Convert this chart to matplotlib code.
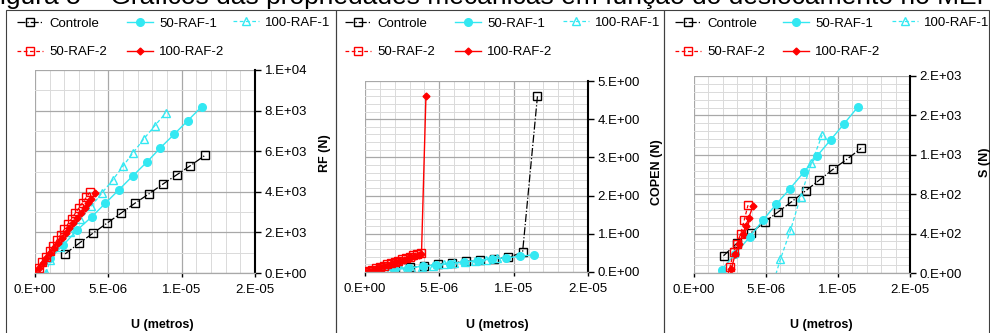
import matplotlib
matplotlib.use('Agg')
import matplotlib.pyplot as plt
from matplotlib.lines import Line2D
from matplotlib.patches import Rectangle
from matplotlib.ticker import MultipleLocator

plt.rcParams['font.family'] = ['Liberation Sans', 'DejaVu Sans']

# ---------------- data (U in micrometres -> scaled to metres) ----------------
series_names = ['Controle', '50-RAF-1', '100-RAF-1', '50-RAF-2', '100-RAF-2']

u_controle = [2.05, 3.00, 3.95, 4.90, 5.85, 6.80, 7.75, 8.70, 9.65, 10.60, 11.60]
rf_controle = [0.94, 1.46, 1.96, 2.45, 2.94, 3.43, 3.89, 4.37, 4.83, 5.29, 5.80]   # x1e3
copen_controle = [0.08, 0.12, 0.16, 0.20, 0.24, 0.28, 0.31, 0.34, 0.38, 0.52, 4.60]
s_controle = [175, 305, 407, 519, 621, 726, 834, 943, 1052, 1153, 1265]

u_50raf1 = [1.02, 1.93, 2.88, 3.87, 4.79, 5.71, 6.66, 7.61, 8.54, 9.48, 10.41, 11.36]
rf_50raf1 = [0.72, 1.38, 2.12, 2.77, 3.43, 4.09, 4.78, 5.45, 6.16, 6.83, 7.50, 8.19]
copen_50raf1 = [0.03, 0.07, 0.11, 0.15, 0.19, 0.22, 0.26, 0.30, 0.34, 0.37, 0.41, 0.45]
s_50raf1 = [-130, 35, 197, 366, 536, 699, 855, 1021, 1187, 1350, 1513, 1682]

u_100raf1 = [0.75, 1.05, 1.70, 2.40, 3.10, 3.85, 4.55, 5.30, 6.00, 6.70, 7.40, 8.15, 8.90]
rf_100raf1 = [0.00, 0.64, 1.30, 2.00, 2.65, 3.30, 3.93, 4.58, 5.27, 5.93, 6.59, 7.24, 7.87]
copen_100raf1 = [0.00, 0.02, 0.05, 0.08, 0.11, 0.14, 0.17, 0.20, 0.23, 0.26, 0.29, 0.32, 0.36]
s_100raf1 = [-2500, -2300, -1900, -1550, -1250, -900, -550, -200, 140, 434, 773, 1113, 1401]

u_50raf2 = [0.00, 0.25, 0.50, 0.75, 1.00, 1.25, 1.50, 1.75, 2.00, 2.25, 2.50, 2.75, 3.00, 3.25, 3.50, 3.75]
rf_50raf2 = [0.00, 0.27, 0.54, 0.81, 1.08, 1.35, 1.62, 1.89, 2.15, 2.42, 2.68, 2.95, 3.21, 3.47, 3.73, 3.98]
copen_50raf2 = [0.00, 0.03, 0.065, 0.10, 0.135, 0.165, 0.20, 0.235, 0.27, 0.30, 0.335, 0.37, 0.40, 0.435, 0.47, 0.50]
s_50raf2 = [-1150, -1030, -910, -790, -670, -550, -430, -310, -190, -70, 61, 214, 299, 401, 543, 689]

u_100raf2 = [0.00, 0.26, 0.52, 0.78, 1.04, 1.30, 1.56, 1.82, 2.08, 2.34, 2.60, 2.86, 3.12, 3.38, 3.60, 3.80, 4.10]
rf_100raf2 = [0.00, 0.25, 0.50, 0.75, 1.00, 1.25, 1.49, 1.74, 1.98, 2.22, 2.47, 2.72, 2.97, 3.22, 3.43, 3.63, 3.92]
copen_100raf2 = [0.00, 0.03, 0.065, 0.095, 0.13, 0.16, 0.195, 0.225, 0.26, 0.29, 0.325, 0.355, 0.385, 0.42, 0.445, 0.48, 4.62]
s_100raf2 = [-1300, -1190, -1080, -970, -860, -750, -640, -530, -420, -310, 45, 190, 290, 395, 480, 560, 680]

x_ticks = [0, 5e-6, 1e-5, 1.5e-5]
x_tick_labels = ['0.E+00', '5.E-06', '1.E-05', '2.E-05']

rf_ticks = [0, 2000, 4000, 6000, 8000, 10000]
rf_tick_labels = ['0.E+00', '2.E+03', '4.E+03', '6.E+03', '8.E+03', '1.E+04']
copen_ticks = [0, 1, 2, 3, 4, 5]
copen_tick_labels = ['0.E+00', '1.E+00', '2.E+00', '3.E+00', '4.E+00', '5.E+00']
s_ticks = [0, 400, 800, 1200, 1600, 2000]
s_tick_labels = ['0.E+00', '4.E+02', '8.E+02', '1.E+03', '2.E+03', '2.E+03']

caption = 'Figura 5 – Gráficos das propriedades mecânicas em função do deslocamento no MEF'

# ---------------- layout helpers ----------------
W, H = 990, 333
fig = plt.figure(figsize=(W / 100, H / 100), dpi=100)
fig.patch.set_facecolor('white')


def fx(px):
    return px / W


def fy(py):
    return 1 - py / H


CYAN = '#33E8F2'
RED = '#FF0000'

styles = {
    'Controle': dict(color='black', ls='-.', marker='s', ms=6, mfc='none', mec='black', mew=1.0, lw=0.9),
    '50-RAF-1': dict(color=CYAN, ls='-', marker='o', ms=5.5, mfc=CYAN, mec=CYAN, lw=1.0),
    '100-RAF-1': dict(color=CYAN, ls=(0, (3, 2)), marker='^', ms=5.5, mfc='none', mec=CYAN, mew=1.0, lw=0.9),
    '50-RAF-2': dict(color=RED, ls=(0, (3, 2)), marker='s', ms=5.5, mfc='none', mec=RED, mew=1.0, lw=0.9),
    '100-RAF-2': dict(color=RED, ls='-', marker='D', ms=3.5, mfc=RED, mec=RED, lw=1.0),
}

u_all = {
    'Controle': u_controle, '50-RAF-1': u_50raf1, '100-RAF-1': u_100raf1,
    '50-RAF-2': u_50raf2, '100-RAF-2': u_100raf2,
}

panels = [
    dict(box=(35, 255, 70, 273), ylim=10000, yticks=rf_ticks, ylabels=rf_tick_labels, yminor=1000,
         yscale=1000.0,
         data={'Controle': rf_controle, '50-RAF-1': rf_50raf1, '100-RAF-1': rf_100raf1,
               '50-RAF-2': rf_50raf2, '100-RAF-2': rf_100raf2},
         ylabel='RF (N)', ylabel_pos=(325, 153), xlabel_pos=(162, 325),
         legend_x=(17, 127, 233), frame=(6, 336)),
    dict(box=(365, 588, 81, 272), ylim=5, yticks=copen_ticks, ylabels=copen_tick_labels, yminor=0.2,
         yscale=1.0,
         data={'Controle': copen_controle, '50-RAF-1': copen_50raf1, '100-RAF-1': copen_100raf1,
               '50-RAF-2': copen_50raf2, '100-RAF-2': copen_100raf2},
         ylabel='COPEN (N)', ylabel_pos=(657, 172), xlabel_pos=(497, 325),
         legend_x=(345, 455, 563), frame=(336, 664)),
    dict(box=(694, 910, 76, 273), ylim=2000, yticks=s_ticks, ylabels=s_tick_labels, yminor=80,
         yscale=1.0,
         data={'Controle': s_controle, '50-RAF-1': s_50raf1, '100-RAF-1': s_100raf1,
               '50-RAF-2': s_50raf2, '100-RAF-2': s_100raf2},
         ylabel='S (N)', ylabel_pos=(985, 162), xlabel_pos=(821, 325),
         legend_x=(675, 783, 892), frame=(664, 989)),
]

TICK_FS = 9.5
LEG_FS = 9.5
LAB_FS = 9

for p in panels:
    l, r, t, b = p['box']
    ax = fig.add_axes([fx(l), fy(b), fx(r) - fx(l), fy(t) - fy(b)])
    for name in series_names:
        u = [v * 1e-6 for v in u_all[name]]
        y = [v * p['yscale'] for v in p['data'][name]]
        ax.plot(u, y, **styles[name])
    ax.set_xlim(0, 1.5e-5)
    ax.set_ylim(0, p['ylim'])
    ax.set_xticks(x_ticks)
    ax.set_xticklabels(x_tick_labels)
    ax.xaxis.set_minor_locator(MultipleLocator(1e-6))
    ax.set_yticks(p['yticks'])
    ax.set_yticklabels(p['ylabels'])
    ax.yaxis.set_minor_locator(MultipleLocator(p['yminor']))
    ax.set_axisbelow(True)
    ax.grid(which='major', color='#a8a8a8', lw=0.9)
    ax.grid(which='minor', color='#dadada', lw=0.7)
    ax.yaxis.tick_right()
    ax.tick_params(which='minor', length=0)
    ax.tick_params(axis='y', which='major', direction='out', length=4, width=1.0,
                   pad=3, labelsize=TICK_FS, right=True, left=False, colors='black')
    ax.tick_params(axis='x', which='major', direction='out', length=3, width=1.0,
                   pad=5, labelsize=TICK_FS, colors='black')
    for sp in ('left', 'top'):
        ax.spines[sp].set_visible(False)
    ax.spines['right'].set_color('black')
    ax.spines['right'].set_linewidth(1.5)
    ax.spines['bottom'].set_color('#a8a8a8')
    ax.spines['bottom'].set_linewidth(0.9)

    fig.text(fx(p['xlabel_pos'][0]), fy(p['xlabel_pos'][1]), 'U (metros)', ha='center', va='center',
             fontsize=LAB_FS, fontweight='bold')
    fig.text(fx(p['ylabel_pos'][0]), fy(p['ylabel_pos'][1]), p['ylabel'], ha='center', va='center',
             rotation=90, fontsize=LAB_FS, fontweight='bold')

    # legends: three columns placed separately
    cols = [['Controle', '50-RAF-2'], ['50-RAF-1', '100-RAF-2'], ['100-RAF-1']]
    for cx, names in zip(p['legend_x'], cols):
        handles = [Line2D([], [], **styles[n]) for n in names]
        yc = 38 if len(names) == 2 else 23
        fig.legend(handles, names, loc='center left', bbox_to_anchor=(fx(cx), fy(yc)),
                   frameon=False, borderpad=0, borderaxespad=0, fontsize=LEG_FS,
                   handlelength=2.0, handletextpad=0.45, labelspacing=1.22, numpoints=1)

    f0, f1 = p['frame']
    fig.add_artist(Rectangle((fx(f0), fy(345)), fx(f1) - fx(f0), fy(10) - fy(345),
                             transform=fig.transFigure, fill=False, edgecolor='#404040', lw=0.8))

# caption line of the page, cut off at the top edge as in the source image
fig.text(fx(-16), fy(4), caption, ha='left', va='baseline', fontsize=19, color='black')

fig.savefig('out.png', dpi=100, facecolor='white')
